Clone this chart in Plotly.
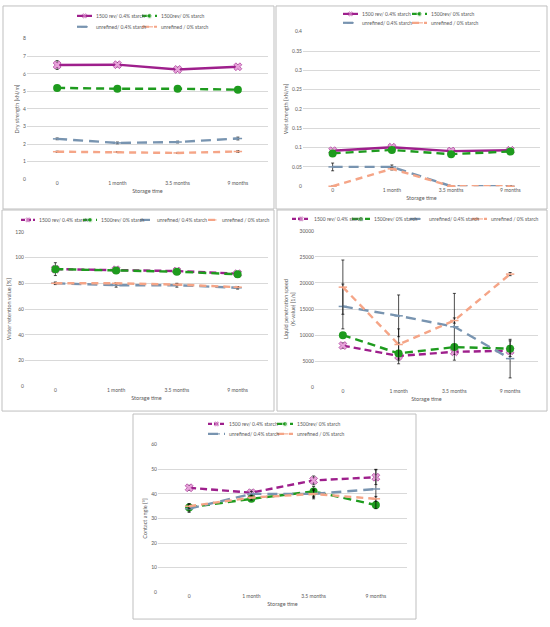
import plotly.graph_objects as go

categories = ["0", "1 month", "3.5 months", "9 months"]
series_names = ["1500 rev/ 0.4% starch", "1500rev/ 0% starch",
                "unrefined/ 0.4% starch", "unrefined / 0% starch"]

# dry strength [kN/m]
dry_rev04 = [6.5, 6.52, 6.25, 6.4]
dry_rev0 = [5.2, 5.15, 5.15, 5.1]
dry_unr04 = [2.3, 2.07, 2.12, 2.32]
dry_unr0 = [1.57, 1.55, 1.5, 1.58]
dry_rev04_err = [0.25, 0.12, 0.12, 0.1]
dry_rev0_err = [0.05, 0.05, 0.05, 0.05]
dry_unr04_err = [0.05, 0.05, 0.05, 0.08]
dry_unr0_err = [0.03, 0.03, 0.03, 0.05]

# wet strength [kN/m]
wet_rev04 = [0.092, 0.101, 0.091, 0.093]
wet_rev0 = [0.085, 0.094, 0.083, 0.09]
wet_unr04 = [0.05, 0.05, 0.0, 0.0]
wet_unr0 = [0.0, 0.045, 0.0, 0.0]
wet_rev04_err = [0.003, 0.003, 0.003, 0.003]
wet_rev0_err = [0.003, 0.003, 0.003, 0.003]
wet_unr04_err = [0.01, 0.005, 0.0, 0.0]
wet_unr0_err = [0.0, 0.003, 0.0, 0.0]

# water retention value [%]
wrv_rev04 = [91, 90.5, 89.5, 87.5]
wrv_rev0 = [91, 90, 89, 87]
wrv_unr04 = [80, 78.5, 78.5, 76.5]
wrv_unr0 = [80, 80, 79, 77]
wrv_rev04_err = [1, 1.5, 1.5, 1]
wrv_rev0_err = [5, 1, 1, 1]
wrv_unr04_err = [1, 1.5, 1.5, 1]
wrv_unr0_err = [0.5, 0.5, 0.5, 0.5]

# liquid penetration speed (K-value) [1/s]
k_rev04 = [8000, 6000, 6800, 7000]
k_rev0 = [10000, 6500, 7700, 7400]
k_unr04 = [15500, 13700, 11600, 5500]
k_unr0 = [19200, 8200, 12800, 21700]
k_rev04_err = [500, 500, 500, 500]
k_rev0_err = [500, 2000, 500, 1500]
k_unr04_err = [4300, 4000, 6400, 3700]
k_unr0_err = [5200, 3000, 500, 300]

# contact angle [°]
ca_rev04 = [42.5, 40.5, 45.5, 46.8]
ca_rev0 = [34.5, 38, 41, 35.5]
ca_unr04 = [34, 40, 40, 42]
ca_unr0 = [35, 38.5, 40, 38]
ca_rev04_err = [1, 1, 1.8, 3]
ca_rev0_err = [1.5, 1, 2, 1]
ca_unr04_err = [1.5, 1, 2, 8]
ca_unr0_err = [1, 1, 1.5, 1]

W, H = 550, 627
FONT = "Lato"
GREY = "#595959"


def px(x):
    return x / W


def py(y):
    return 1 - y / H


colors = ["#9E1F8C", "#1E9B1E", "#7894B0", "#F5A587"]
markers = [
    dict(symbol="x", size=7, color="#E6A3D9", line=dict(color="#9E1F8C", width=0.6)),
    dict(symbol="circle", size=8, color="#1E9B1E"),
    dict(symbol="line-ew", size=6, line=dict(color="#7894B0", width=1.5)),
    dict(symbol="line-ew", size=6, line=dict(color="#F5A587", width=1.5)),
]
legend_sizes = [4, 5, 5, 5]
dash_solid = ["solid", "8px,5px", "10px,6px", "7px,5px"]
dash_all = ["7px,4px", "8px,5px", "10px,6px", "7px,5px"]

panels = [
    dict(vals=[dry_rev04, dry_rev0, dry_unr04, dry_unr0],
         errs=[dry_rev04_err, dry_rev0_err, dry_unr04_err, dry_unr0_err],
         yrange=[0, 8], dtick=1, fmt="", title="Dry strength [kN/m]",
         plot=(27, 268, 36, 178), box=(3, 274, 3, 208), dash=dash_solid,
         leg=[(77, 92, 94, 13), (142, 157, 159, 13), (77, 92, 94, 24), (142, 157, 159, 24)]),
    dict(vals=[wet_rev04, wet_rev0, wet_unr04, wet_unr0],
         errs=[wet_rev04_err, wet_rev0_err, wet_unr04_err, wet_unr0_err],
         yrange=[0, 0.4], dtick=0.05, fmt="", title="Wet strength [kN/m]",
         plot=(303, 540, 29, 185), box=(276, 547, 3, 208), dash=dash_solid,
         leg=[(343, 358, 360, 11), (412, 427, 429, 11), (343, 358, 360, 20), (412, 427, 429, 20)]),
    dict(vals=[wrv_rev04, wrv_rev0, wrv_unr04, wrv_unr0],
         errs=[wrv_rev04_err, wrv_rev0_err, wrv_unr04_err, wrv_unr0_err],
         yrange=[0, 120], dtick=20, fmt="", title="Water retention value [%]",
         plot=(25, 268, 231, 387), box=(2, 274, 209, 412), dash=dash_all,
         leg=[(21, 35, 37, 219), (83, 97, 99, 219), (140, 153, 155, 219), (208, 218, 220, 219)]),
    dict(vals=[k_rev04, k_rev0, k_unr04, k_unr0],
         errs=[k_rev04_err, k_rev0_err, k_unr04_err, k_unr0_err],
         yrange=[0, 30000], dtick=5000, fmt="d",
         title="Liquid penetration speed<br>(K-value) [1/s]",
         plot=(315, 538, 230, 388), box=(277, 547, 209, 412), dash=dash_all,
         leg=[(292, 310, 312, 218), (352, 370, 372, 218), (410, 425, 427, 218), (472, 487, 489, 218)]),
    dict(vals=[ca_rev04, ca_rev0, ca_unr04, ca_unr0],
         errs=[ca_rev04_err, ca_rev0_err, ca_unr04_err, ca_unr0_err],
         yrange=[0, 60], dtick=10, fmt="", title="Contact angle [°]",
         plot=(158, 407, 446, 595), box=(133, 416, 415, 622), dash=dash_all,
         leg=[(208, 225, 227, 425), (277, 293, 295, 425), (208, 225, 227, 435), (277, 293, 295, 435)]),
]

fig = go.Figure()
layout = dict(width=W, height=H, margin=dict(l=0, r=0, t=0, b=0),
              paper_bgcolor="white", plot_bgcolor="rgba(0,0,0,0)", showlegend=False,
              font=dict(family=FONT, size=5, color=GREY))
shapes = []
annotations = []

for i, p in enumerate(panels, start=1):
    xa = "x" if i == 1 else f"x{i}"
    ya = "y" if i == 1 else f"y{i}"
    x0, x1, y0, y1 = p["plot"]
    layout["xaxis" if i == 1 else f"xaxis{i}"] = dict(
        domain=[px(x0), px(x1)], anchor=ya, type="category",
        categoryorder="array", categoryarray=categories, range=[-0.5, 3.5],
        showgrid=False, zeroline=False, showline=False, ticks="",
        tickfont=dict(size=5, color=GREY), fixedrange=True,
        title=dict(text="Storage time", font=dict(size=5.5, color=GREY), standoff=3))
    layout["yaxis" if i == 1 else f"yaxis{i}"] = dict(
        domain=[py(y1), py(y0)], anchor=xa, range=p["yrange"], dtick=p["dtick"],
        tickformat=p["fmt"], showgrid=True, gridcolor="#D9D9D9", gridwidth=0.8,
        zeroline=False, showline=False, ticks="", fixedrange=True,
        tickfont=dict(size=5, color=GREY),
        title=dict(text=p["title"], font=dict(size=5.5, color=GREY), standoff=3))

    for s in range(4):
        fig.add_trace(go.Scatter(
            x=categories, y=p["vals"][s], mode="lines+markers", name=series_names[s],
            line=dict(color=colors[s], width=2.4, dash=p["dash"][s]),
            marker=markers[s],
            error_y=dict(type="data", array=p["errs"][s], color="black",
                         thickness=0.7, width=1.5),
            xaxis=xa, yaxis=ya, cliponaxis=False))

    bx0, bx1, by0, by1 = p["box"]
    shapes.append(dict(type="rect", xref="paper", yref="paper",
                       x0=px(bx0), x1=px(bx1), y0=py(by1), y1=py(by0),
                       line=dict(color="#BFBFBF", width=1), layer="below"))

    # legend entries
    for s, (lx0, lx1, tx, ly) in enumerate(p["leg"]):
        fig.add_trace(go.Scatter(
            x=[lx0, (lx0 + lx1) / 2, lx1], y=[ly, ly, ly], mode="lines+markers",
            line=dict(color=colors[s], width=2.2, dash=p["dash"][s] if s else
                      ("solid" if p["dash"][0] == "solid" else "4px,2px")),
            marker=dict(markers[s], size=[0, legend_sizes[s], 0]),
            xaxis="x6", yaxis="y6", hoverinfo="skip"))
        annotations.append(dict(x=px(tx), y=py(ly), xref="paper", yref="paper",
                                text=series_names[s], showarrow=False,
                                xanchor="left", yanchor="middle",
                                font=dict(size=5, color=GREY, family=FONT)))

layout["xaxis6"] = dict(domain=[0, 1], range=[0, W], visible=False, fixedrange=True, anchor="y6")
layout["yaxis6"] = dict(domain=[0, 1], range=[H, 0], visible=False, fixedrange=True, anchor="x6")
layout["shapes"] = shapes
layout["annotations"] = annotations
fig.update_layout(**layout)

fig.write_html("out.html", config={"displayModeBar": False},
               post_script="document.body.style.margin='0';document.body.style.overflow='hidden';")
